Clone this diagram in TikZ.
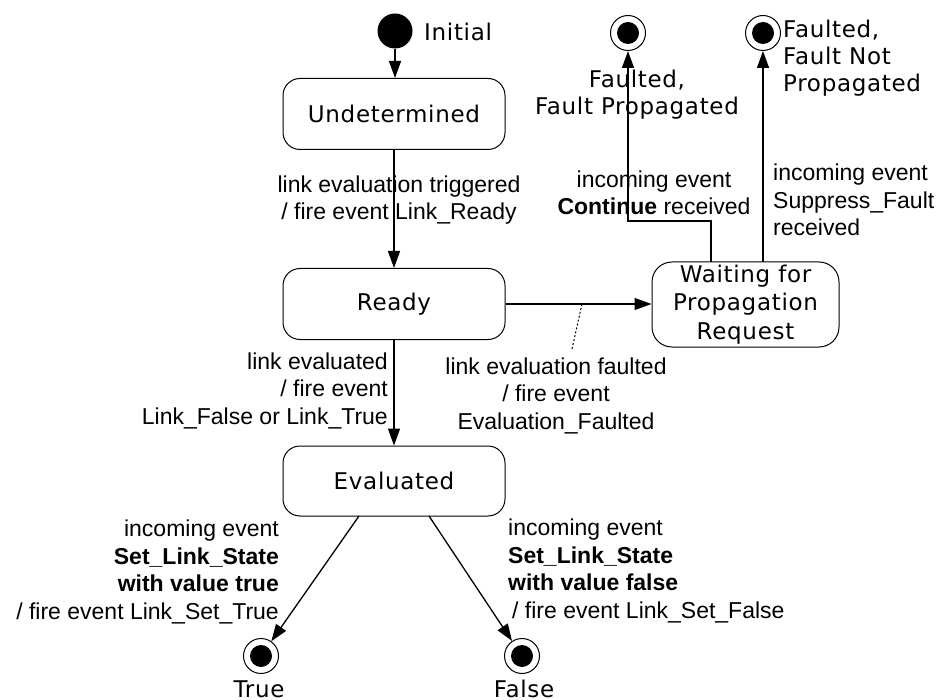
\documentclass[tikz,border=0pt]{standalone}
\usepackage{fontspec}
\setmainfont{Liberation Sans}
\newfontfamily\statefont[LetterSpace=3]{DejaVu Sans}
\usetikzlibrary{arrows.meta}
\begin{document}
\begin{tikzpicture}[x=1pt,y=-1pt,
  lab/.style={font=\fontsize{23}{27.5}\selectfont, inner sep=0pt},
  stname/.style={font=\statefont\fontsize{23}{27}\selectfont, inner sep=0pt},
  state/.style={draw, rounded corners=17pt, line width=1pt, inner sep=0pt,
    font=\statefont\fontsize{23}{28.5}\selectfont, align=center},
  initst/.style={circle, fill=black, minimum size=35pt, inner sep=0pt},
  finalst/.style={circle, draw, line width=1pt, minimum size=35pt, inner sep=0pt,
    path picture={\fill (path picture bounding box.center) circle (11pt);}},
  tr/.style={line width=1.3pt, -{Triangle[length=17pt,width=12pt]}},
]
\useasboundingbox (0,0) rectangle (939,700);

% states
\node[initst] (init) at (395,31) {};
\node[state, minimum width=222pt, minimum height=71pt] (und) at (394,114) {Undetermined};
\node[state, minimum width=222pt, minimum height=71pt] (ready) at (394,304) {Ready};
\node[state, minimum width=222pt, minimum height=70pt] (eval) at (394,481) {Evaluated};
\node[state, minimum width=187pt, minimum height=85pt, rounded corners=20pt] (wait) at (745.5,304.5) {Waiting for\\Propagation\\Request};
\node[finalst] (fp) at (628,33) {};
\node[finalst] (fnp) at (763,33) {};
\node[finalst] (ftrue) at (261,656) {};
\node[finalst] (ffalse) at (522,656) {};

% state labels (anchor base = baseline of last line)
\node[stname, anchor=base west] (linit) at (424,41) {Initial};
\node[stname, anchor=base, align=center] (lfp) at (637,115) {Faulted,\\Fault Propagated};
\node[stname, anchor=base west, align=left] (lfnp) at (783,92) {Faulted,\\Fault Not\\Propagated};
\node[stname, anchor=base] (ltrue) at (259,697) {True};
\node[stname, anchor=base] (lfalse) at (524,697) {False};

% connectors
\draw[tr] (init) -- (init |- und.north);
\draw[tr] (und) -- (ready);
\draw[tr] (ready) -- (eval);
\draw[tr] (ready.east) -- (ready.east -| wait.west);
\coordinate (e1) at (359,516);
\coordinate (e2) at (429,516);
\draw[tr] (e1) -- (ftrue);
\draw[tr] (e2) -- (ffalse);
\coordinate (w1) at (711,262);
\coordinate (bend) at (711,221);
\draw[tr] (w1) -- (bend) -| (fp);
\coordinate (w2) at (763,262);
\draw[tr] (w2) -- (fnp);
\coordinate (d1) at (582,304);
\coordinate (d2) at (572,349);
\draw[line width=1pt, dash pattern=on 2pt off 2pt] (d1) -- (d2);

% transition labels (anchor base = baseline of last line)
\node[lab, align=center, anchor=base] (l1) at (399,220) {link evaluation triggered\\/ fire event Link\_Ready};
\node[lab, align=right, anchor=base east] (l2) at (388,424) {link evaluated\\/ fire event\\Link\_False or Link\_True};
\node[lab, align=center, anchor=base] (l3) at (556,429) {link evaluation faulted\\/ fire event\\Evaluation\_Faulted};
\node[lab, align=center, anchor=base] (l4) at (654,215) {incoming event\\\textbf{Continue} received};
\node[lab, align=left, anchor=base west] (l5) at (773,236) {incoming event\\Suppress\_Fault\\received};
\node[lab, align=right, anchor=base east] (l6) at (279,619) {incoming event\\\textbf{Set\_Link\_State}\\\textbf{with value true}\\/ fire event Link\_Set\_True};
\node[lab, align=left, anchor=base west] (l7) at (508,618) {incoming event\\\textbf{Set\_Link\_State}\\\textbf{with value false}\\\hspace{4pt}/ fire event Link\_Set\_False};
\end{tikzpicture}
\end{document}
